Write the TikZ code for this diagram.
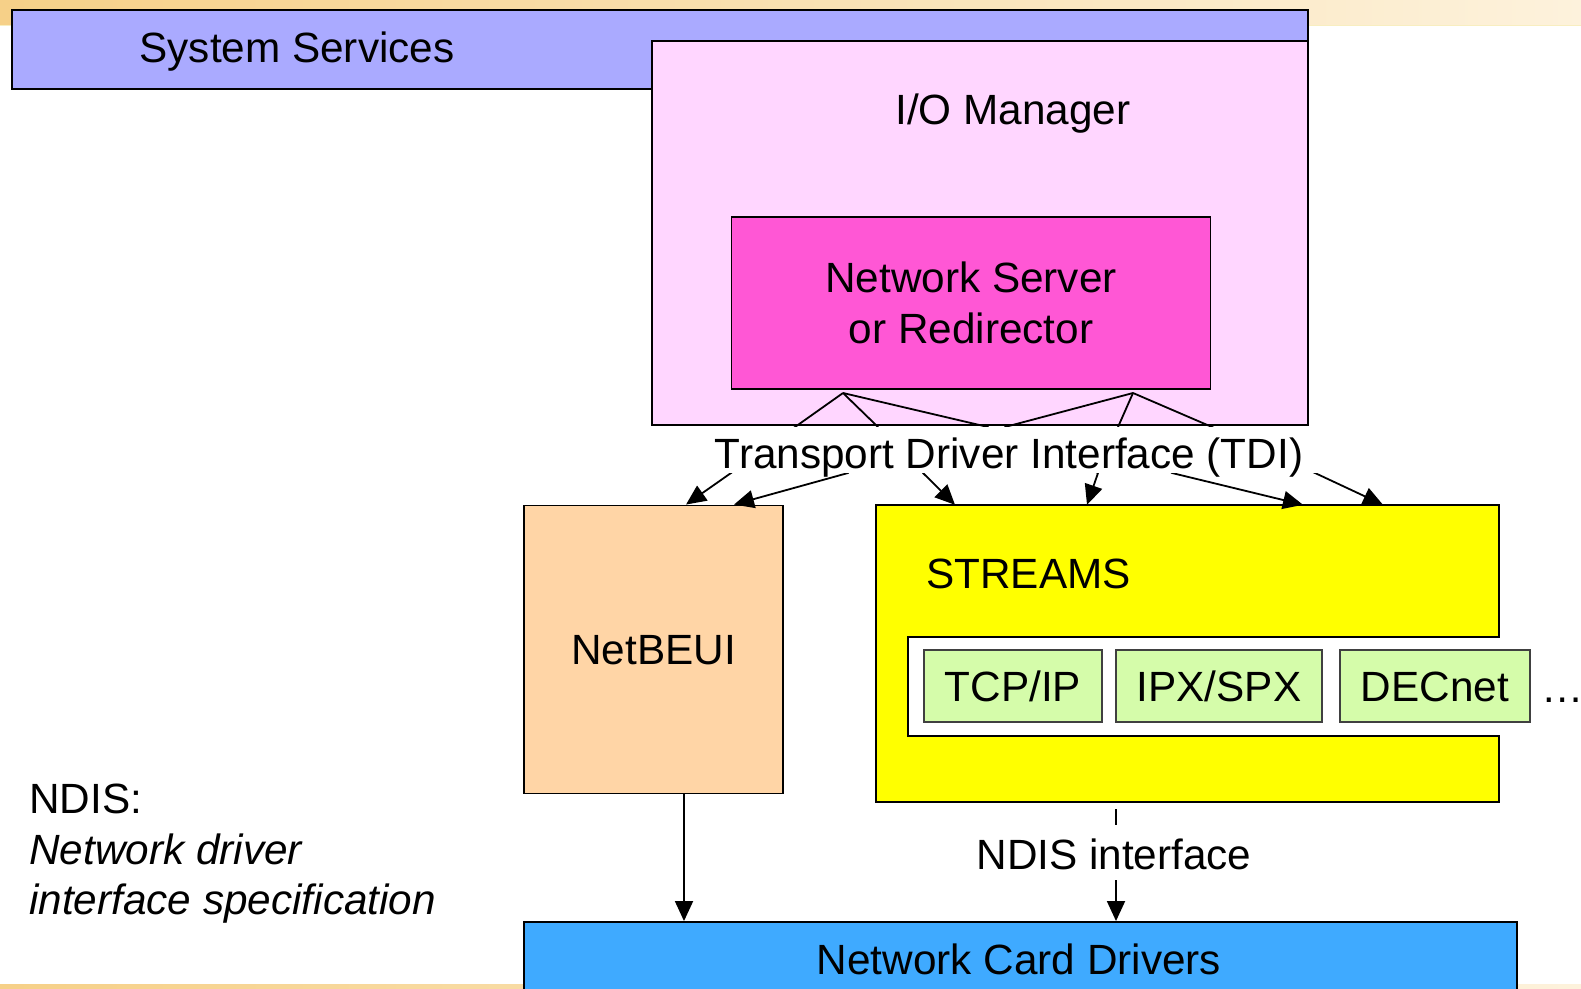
\documentclass[tikz,border=0pt]{standalone}
\usepackage{fontspec}
\setmainfont{Liberation Sans}
\usetikzlibrary{arrows.meta,calc}

\definecolor{sysblue}{HTML}{AAAAFF}
\definecolor{iopink}{HTML}{FFD6FF}
\definecolor{srvmagenta}{HTML}{FF57D5}
\definecolor{netpeach}{HTML}{FFD5A6}
\definecolor{strmyellow}{HTML}{FFFF00}
\definecolor{protogreen}{HTML}{D5FCAA}
\definecolor{cardblue}{HTML}{3FAAFF}
\definecolor{bandleft}{HTML}{F6D088}
\definecolor{bandright}{HTML}{FDF2DC}
\definecolor{bandedge}{HTML}{F8EEC0}

\begin{document}
\begin{tikzpicture}[x=1pt,y=-1pt,
  box/.style={draw=black, line width=1.9pt, inner sep=0pt},
  protobox/.style={draw=black!75, line width=1.4pt, fill=protogreen, inner sep=0pt,
    minimum height=72pt, text height=30pt, text depth=0pt,
    font=\fontsize{42.3}{51}\selectfont},
  lbl/.style={inner sep=0pt, font=\fontsize{42.3}{51}\selectfont},
  conn/.style={line width=1.8pt, line join=round, -{Triangle[length=20pt,width=18pt]}},
]
% page and slide bands
\useasboundingbox (0,0) rectangle (1581,988);
\fill[white] (0,0) rectangle (1581,988);
\shade[left color=bandleft, right color=bandright] (0,0) rectangle (1581,25);
\draw[bandedge, line width=1pt] (0,25) -- (1581,25);
\shade[left color=bandleft, right color=bandright] (0,984) rectangle (1581,988);

% kernel layers
\node[box, fill=sysblue, minimum width=1296pt, minimum height=79pt] (sys) at (660,49.5) {};
\node[lbl, anchor=base] (systxt) at (297,62) {System Services};

\node[box, fill=iopink, minimum width=656pt, minimum height=384pt] (iomgr) at (980,233) {};
\node[lbl, anchor=base] (iotxt) at (1013,124) {I/O Manager};

\node[box, fill=srvmagenta, minimum width=479pt, minimum height=172pt, align=center,
      font=\fontsize{42.3}{51}\selectfont] (netserv) at (971,303) {Network Server\\or Redirector};

% transports
\node[box, fill=netpeach, minimum width=259pt, minimum height=288pt,
      text height=30pt, text depth=0pt, font=\fontsize{42.3}{51}\selectfont]
      (netbeui) at (653.5,649.5) {NetBEUI};

\node[inner sep=0pt, minimum width=623pt, minimum height=297pt] (streams) at (1187.5,653.5) {};
\filldraw[fill=strmyellow, draw=black, line width=1.9pt, line join=miter]
  (streams.north west) -- (streams.north east) -- (streams.east |- 0,637)
  -- (908,637) -- (908,736) -- (streams.east |- 0,736)
  -- (streams.south east) -- (streams.south west) -- cycle;
\node[lbl, anchor=base west] (strtxt) at (926,588) {STREAMS};

\node[protobox, minimum width=178pt] (tcp) at (1013,686) {TCP/IP};
\node[protobox, minimum width=206pt] (ipx) at (1219,686) {IPX/SPX};
\node[protobox, minimum width=190pt] (dec) at (1435,686) {DECnet};
\node[lbl, anchor=base west] (more) at (1541,702) {…};

% network card drivers
\node[box, fill=cardblue, minimum width=993pt, minimum height=78pt] (ncd) at (1020.5,961) {};
\node[lbl, anchor=base] (ncdtxt) at (1019,974) {Network Card Drivers};

% TDI connectors
\coordinate (apexL) at (843,393);
\coordinate (apexR) at (1133,393);
\draw[conn] (apexL) -- (795,427) -- (731,473) -- (686,0 |- netbeui.north);
\draw[conn] (apexL) -- (878,427) -- (848,473) -- (734,0 |- netbeui.north);
\draw[conn] (apexL) -- (988,427) -- (923,473) -- (955,0 |- streams.north);
\draw[conn] (apexR) -- (1005,427) -- (1098,473) -- (1087,0 |- streams.north);
\draw[conn] (apexR) -- (1118,427) -- (1172,473) -- (1303,0 |- streams.north);
\draw[conn] (apexR) -- (1212,427) -- (1315,473) -- (1383,0 |- streams.north);
\node[lbl, fill=white, minimum width=618pt, minimum height=46pt, text height=36pt, text depth=0pt]
  (tdi) at (1009,450) {Transport Driver Interface (TDI)};

% NDIS connectors
\draw[conn] (684,0 |- netbeui.south) -- (684,0 |- ncd.north);
\draw[conn, shorten <=7pt] (1116,0 |- streams.south) -- (1116,0 |- ncd.north);
\node[lbl, fill=white, minimum width=290pt, minimum height=55pt, text height=33pt, text depth=0pt]
  (ndisif) at (1114,852.5) {NDIS interface};

% legend
\node[lbl, anchor=base west] (ndisA) at (29,813) {NDIS:};
\node[lbl, anchor=base west, font=\fontsize{42.3}{51}\selectfont\itshape] (ndisB) at (29,864) {Network driver};
\node[lbl, anchor=base west, font=\fontsize{42.3}{51}\selectfont\itshape] (ndisC) at (29,914) {interface specification};
\end{tikzpicture}
\end{document}
